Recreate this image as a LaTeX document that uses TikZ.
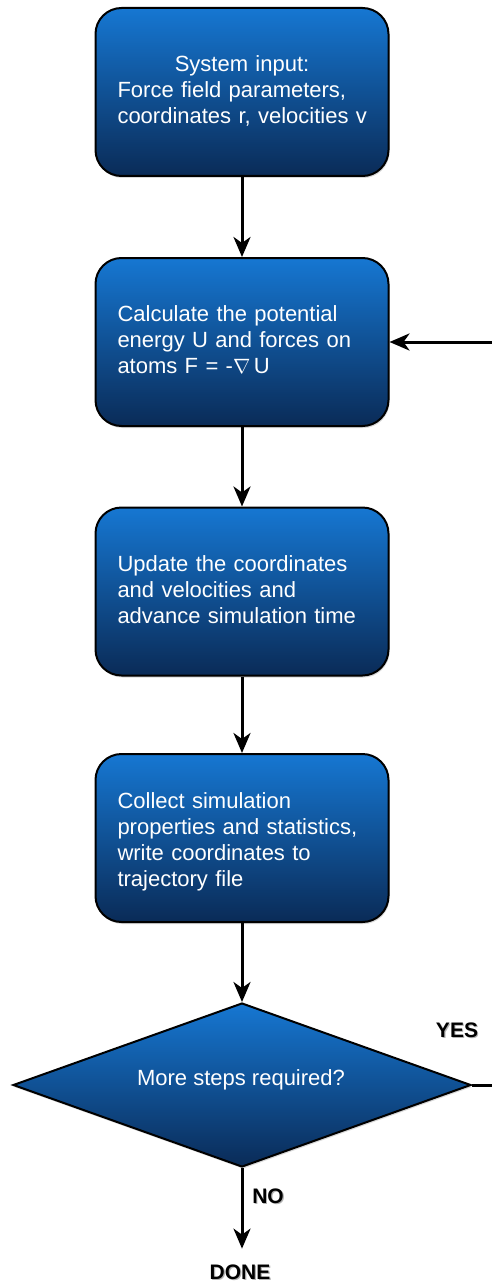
\documentclass[tikz,border=0pt]{standalone}
\usepackage{fontspec}
\setmainfont{Liberation Sans}
\usetikzlibrary{arrows.meta,shapes.geometric,shadows}
\definecolor{boxtop}{HTML}{1677D2}
\definecolor{boxbot}{HTML}{0A2B57}
% bold label with a soft grey shadow behind it
\newcommand{\shadedlabel}[1]{\makebox[0pt][l]{\hspace{1.2pt}\raisebox{-1pt}{\color{black!30}#1}}#1}
\begin{document}
\begin{tikzpicture}[x=1pt,y=-1pt,
  softshadow/.style={drop shadow={opacity=0.3,shadow xshift=1pt,shadow yshift=-2pt}},
  stepbox/.style={rectangle, rounded corners=26pt, draw=black, line width=2pt,
    top color=boxtop, bottom color=boxbot, text=white,
    font=\fontsize{22}{26}\selectfont, text width=249pt, inner xsep=22pt,
    minimum height=168pt, align=left, softshadow},
  decision/.style={diamond, aspect=2.79, minimum width=458pt, minimum height=164pt,
    inner sep=0pt, draw=black, line width=2pt,
    top color=boxtop, bottom color=boxbot, softshadow},
  boxtext/.style={text=white, font=\fontsize{22}{26}\selectfont, inner sep=0pt},
  tag/.style={text=black, font=\fontsize{21}{25}\selectfont\bfseries, inner sep=0pt},
  flow/.style={line width=3pt, -{Stealth[length=20pt,width=17pt,inset=6pt]}}]
\useasboundingbox (0,0) rectangle (492,1284);

% process steps
\node[stepbox, text depth=57pt] (input) at (242,92)
  {\makebox[249pt][c]{System input:}\\ Force field parameters,\\ \mbox{coordinates r, velocities v}};
\node[stepbox, text depth=56pt] (calc) at (242,342)
  {Calculate the potential\\ energy U and forces on\\ atoms F = -$\nabla$\,U};
\node[stepbox, text depth=56pt] (update) at (242,591.5)
  {Update the coordinates\\ and velocities and\\ advance simulation time};
\node[stepbox, text depth=74pt] (collect) at (242,838)
  {Collect simulation\\ properties and statistics,\\ write coordinates to\\ trajectory file};

% loop decision
\node[decision] (more) at (242,1085) {};
\node[boxtext, anchor=base] (moretext) at (241,1085) {More steps required?};

% branch labels and end
\node[tag, anchor=base] (yes) at (457,1037) {\shadedlabel{YES}};
\node[tag, anchor=base] (no) at (268,1203) {\shadedlabel{NO}};
\node[tag, anchor=base] (done) at (240,1279.5) {\shadedlabel{DONE}};
\coordinate (loop) at (510,1085);

% connectors
\draw[flow] (input) -- (calc);
\draw[flow] (calc) -- (update);
\draw[flow] (update) -- (collect);
\draw[flow] (collect) -- (more);
\draw[flow, shorten >=16pt] (more.south) -- (more.south |- done.north);
\draw[flow] (more.east) -- (loop) |- (calc.east);
\end{tikzpicture}
\end{document}
